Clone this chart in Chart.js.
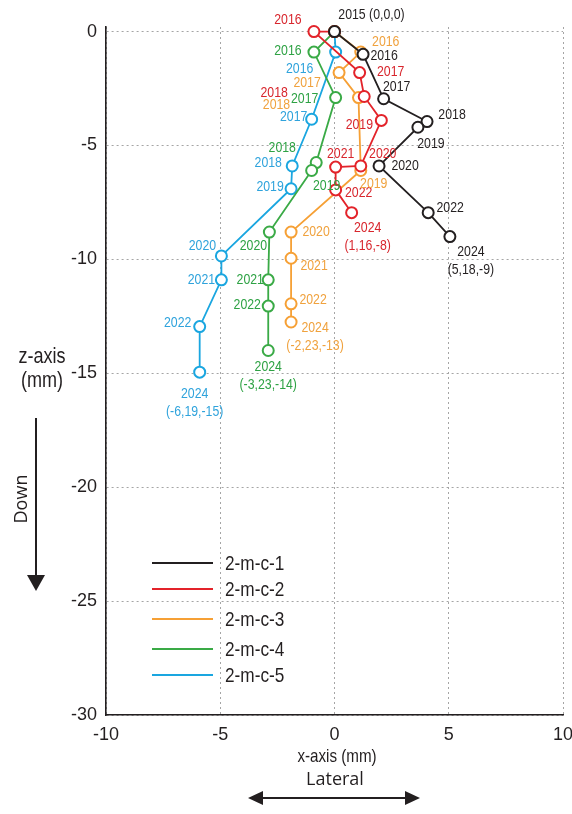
<!DOCTYPE html>
<html>
<head>
<meta charset="utf-8">
<script src="https://cdn.jsdelivr.net/npm/chart.js@4.4.1/dist/chart.umd.min.js"></script>
<style>
  html, body { margin: 0; padding: 0; background: #fff; }
  canvas { display: block; }
</style>
</head>
<body>
<canvas id="chart" width="572" height="814"></canvas>
<script>
const seriesNames = ['2-m-c-1', '2-m-c-2', '2-m-c-3', '2-m-c-4', '2-m-c-5'];

// 2-m-c-1
const years1 = [2015, 2016, 2017, 2018, 2019, 2020, 2022, 2024];
const x1 = [0, 1.25, 2.15, 4.05, 3.65, 1.95, 4.1, 5.05];
const z1 = [0, -1.0, -2.95, -3.95, -4.2, -5.9, -7.95, -9.0];
// 2-m-c-2
const years2 = [2015, 2016, 2017, 2018, 2019, 2020, 2021, 2022, 2024];
const x2 = [0, -0.9, 1.1, 1.3, 2.05, 1.15, 0.05, 0.05, 0.75];
const z2 = [0, 0, -1.8, -2.85, -3.9, -5.9, -5.95, -6.95, -7.95];
// 2-m-c-3
const years3 = [2015, 2016, 2017, 2018, 2019, 2020, 2021, 2022, 2024];
const x3 = [0, 1.15, 0.2, 1.05, 1.15, -1.9, -1.9, -1.9, -1.9];
const z3 = [0, -0.9, -1.8, -2.9, -6.1, -8.8, -9.95, -11.95, -12.75];
// 2-m-c-4
const years4 = [2015, 2016, 2017, 2018, 2019, 2020, 2021, 2022, 2024];
const x4 = [0, -0.9, 0.05, -0.8, -1.0, -2.85, -2.9, -2.9, -2.9];
const z4 = [0, -0.9, -2.9, -5.75, -6.1, -8.8, -10.9, -12.05, -14.0];
// 2-m-c-5
const years5 = [2015, 2016, 2017, 2018, 2019, 2020, 2021, 2022, 2024];
const x5 = [0, 0.05, -1.0, -1.85, -1.9, -4.95, -4.95, -5.9, -5.9];
const z5 = [0, -0.9, -3.85, -5.9, -6.9, -9.85, -10.9, -12.95, -14.95];

const originCoords = '(0,0,0)';
const endCoords = ['(5,18,-9)', '(1,16,-8)', '(-2,23,-13)', '(-3,23,-14)', '(-6,19,-15)'];

const xTicks = [-10, -5, 0, 5, 10];
const zTicks = [-30, -25, -20, -15, -10, -5, 0];

const lineColors = ['#231f20', '#e3232a', '#f6a035', '#3aaa46', '#1aa6e0'];
const textColors = ['#231f20', '#d8262d', '#f0a23e', '#2ea244', '#2fa3dc'];

// pixel offsets of each year label from its point (styling only)
const labelOffsets = [
  [[37, -17], [21, 2], [13, -12], [25, -7], [13, 17], [26, 0], [22, -5], [21, 15]],
  [null, [-26, -12], [31, -1], [-90, -4], [-22, 4], [22, -12], [5, -13], [23, 3], [16, 15]],
  [null, [25, -10], [-32, 10], [-82, 7], [13, 13], [25, 0], [23, 8], [22, -4], [24, 6]],
  [null, [-26, -1], [-31, 1], [-34, -15], [15, 15], [-16, 14], [-18, 0], [-21, -1], [0, 16]],
  [null, [-36, 17], [-18, -2], [-24, -3], [-21, -2], [-19, -10], [-20, 0], [-22, -4], [-5, 22]],
];

const sansFamily = "'Liberation Sans', Arial, sans-serif";

const allYears = [years1, years2, years3, years4, years5];
const allX = [x1, x2, x3, x4, x5];
const allZ = [z1, z2, z3, z4, z5];

// Arial Narrow look: Liberation Sans squeezed horizontally
const narrowText = (ctx, text, x, y, size, align) => {
  ctx.save();
  ctx.font = size + 'px ' + sansFamily;
  ctx.textAlign = align || 'center';
  ctx.textBaseline = 'middle';
  ctx.translate(x, y);
  ctx.scale(0.82, 1);
  ctx.fillText(text, 0, 0);
  ctx.restore();
};

const labelLines = (i, j) => {
  const year = String(allYears[i][j]);
  if (j === 0) return [year + ' ' + originCoords];
  if (j === allYears[i].length - 1) return [year, endCoords[i]];
  return [year];
};

const pointLabels = {
  id: 'pointLabels',
  afterDatasetsDraw(chart) {
    const ctx = chart.ctx;
    chart.data.datasets.forEach((ds, i) => {
      const meta = chart.getDatasetMeta(i);
      ctx.fillStyle = textColors[i];
      meta.data.forEach((pt, j) => {
        const off = labelOffsets[i][j];
        if (!off) return;
        labelLines(i, j).forEach((t, k) => {
          narrowText(ctx, t, pt.x + off[0], pt.y + off[1] + k * 18, 15);
        });
      });
    });
  },
};

const arrowHead = (ctx, x, y, dir) => {
  ctx.beginPath();
  if (dir === 'down') {
    ctx.moveTo(x - 9, y - 16);
    ctx.lineTo(x + 9, y - 16);
    ctx.lineTo(x, y);
  } else if (dir === 'left') {
    ctx.moveTo(x + 15, y - 7);
    ctx.lineTo(x + 15, y + 7);
    ctx.lineTo(x, y);
  } else {
    ctx.moveTo(x - 15, y - 7);
    ctx.lineTo(x - 15, y + 7);
    ctx.lineTo(x, y);
  }
  ctx.closePath();
  ctx.fill();
};

const decorations = {
  id: 'decorations',
  afterDraw(chart) {
    const ctx = chart.ctx;
    ctx.save();

    // legend
    const legendY = [563, 589, 619, 649, 675];
    chart.data.datasets.forEach((ds, i) => {
      ctx.strokeStyle = ds.borderColor;
      ctx.lineWidth = 2;
      ctx.beginPath();
      ctx.moveTo(152, legendY[i]);
      ctx.lineTo(213, legendY[i]);
      ctx.stroke();
      ctx.fillStyle = '#231f20';
      narrowText(ctx, ds.label, 225, legendY[i] + 1, 21, 'left');
    });

    ctx.fillStyle = '#231f20';
    ctx.strokeStyle = '#231f20';

    // axis titles
    narrowText(ctx, 'z-axis', 42, 357, 22);
    narrowText(ctx, '(mm)', 42, 381, 22);
    narrowText(ctx, 'x-axis (mm)', 337, 757, 18.5);

    ctx.textAlign = 'center';
    ctx.textBaseline = 'middle';
    ctx.font = "18px 'Open Sans', sans-serif";
    ctx.fillText('Lateral', 335, 780);

    // Down arrow
    ctx.save();
    ctx.translate(22, 499);
    ctx.rotate(-Math.PI / 2);
    ctx.font = "18px 'Open Sans', sans-serif";
    ctx.fillText('Down', 0, 0);
    ctx.restore();
    ctx.lineWidth = 2;
    ctx.beginPath();
    ctx.moveTo(36, 418);
    ctx.lineTo(36, 578);
    ctx.stroke();
    arrowHead(ctx, 36, 591, 'down');

    // Lateral double arrow
    ctx.beginPath();
    ctx.moveTo(258, 798);
    ctx.lineTo(410, 798);
    ctx.stroke();
    arrowHead(ctx, 248, 798, 'left');
    arrowHead(ctx, 420, 798, 'right');

    ctx.restore();
  },
};

const datasets = seriesNames.map((name, i) => ({
  label: name,
  data: allX[i].map((x, j) => ({ x: x, y: allZ[i][j] })),
  showLine: true,
  borderColor: lineColors[i],
  borderWidth: 1.8,
  pointRadius: 5.5,
  pointHoverRadius: 5.5,
  pointBorderWidth: 2,
  pointBorderColor: lineColors[i],
  pointBackgroundColor: '#fff',
  fill: false,
  tension: 0,
  clip: false,
}));

const tickFont = { family: sansFamily, size: 18 };

new Chart(document.getElementById('chart'), {
  type: 'scatter',
  data: { datasets: datasets },
  options: {
    responsive: false,
    animation: false,
    layout: { padding: { top: 27, right: 9, bottom: 0, left: 0 } },
    plugins: {
      legend: { display: false },
      tooltip: { enabled: false },
    },
    scales: {
      x: {
        type: 'linear',
        min: -10,
        max: 10,
        afterBuildTicks: (axis) => { axis.ticks = xTicks.map((v) => ({ value: v })); },
        afterFit: (axis) => {
          axis.height = 99;
          axis.paddingLeft = 0;
          axis.paddingRight = 0;
        },
        grid: { color: '#a5a5a5', lineWidth: 1, drawTicks: false },
        border: { color: '#231f20', width: 1.6, dash: [2, 3] },
        ticks: { padding: 9, color: '#231f20', font: tickFont },
      },
      y: {
        type: 'linear',
        min: -30,
        max: 0.2,
        afterBuildTicks: (axis) => { axis.ticks = zTicks.map((v) => ({ value: v })); },
        afterFit: (axis) => {
          axis.width = 106;
          axis.paddingTop = 0;
          axis.paddingBottom = 0;
        },
        grid: { color: '#a5a5a5', lineWidth: 1, drawTicks: false },
        border: { color: '#231f20', width: 1.6, dash: [2, 3] },
        ticks: { padding: 9, color: '#231f20', font: tickFont },
      },
    },
  },
  plugins: [pointLabels, decorations],
});
</script>
</body>
</html>
